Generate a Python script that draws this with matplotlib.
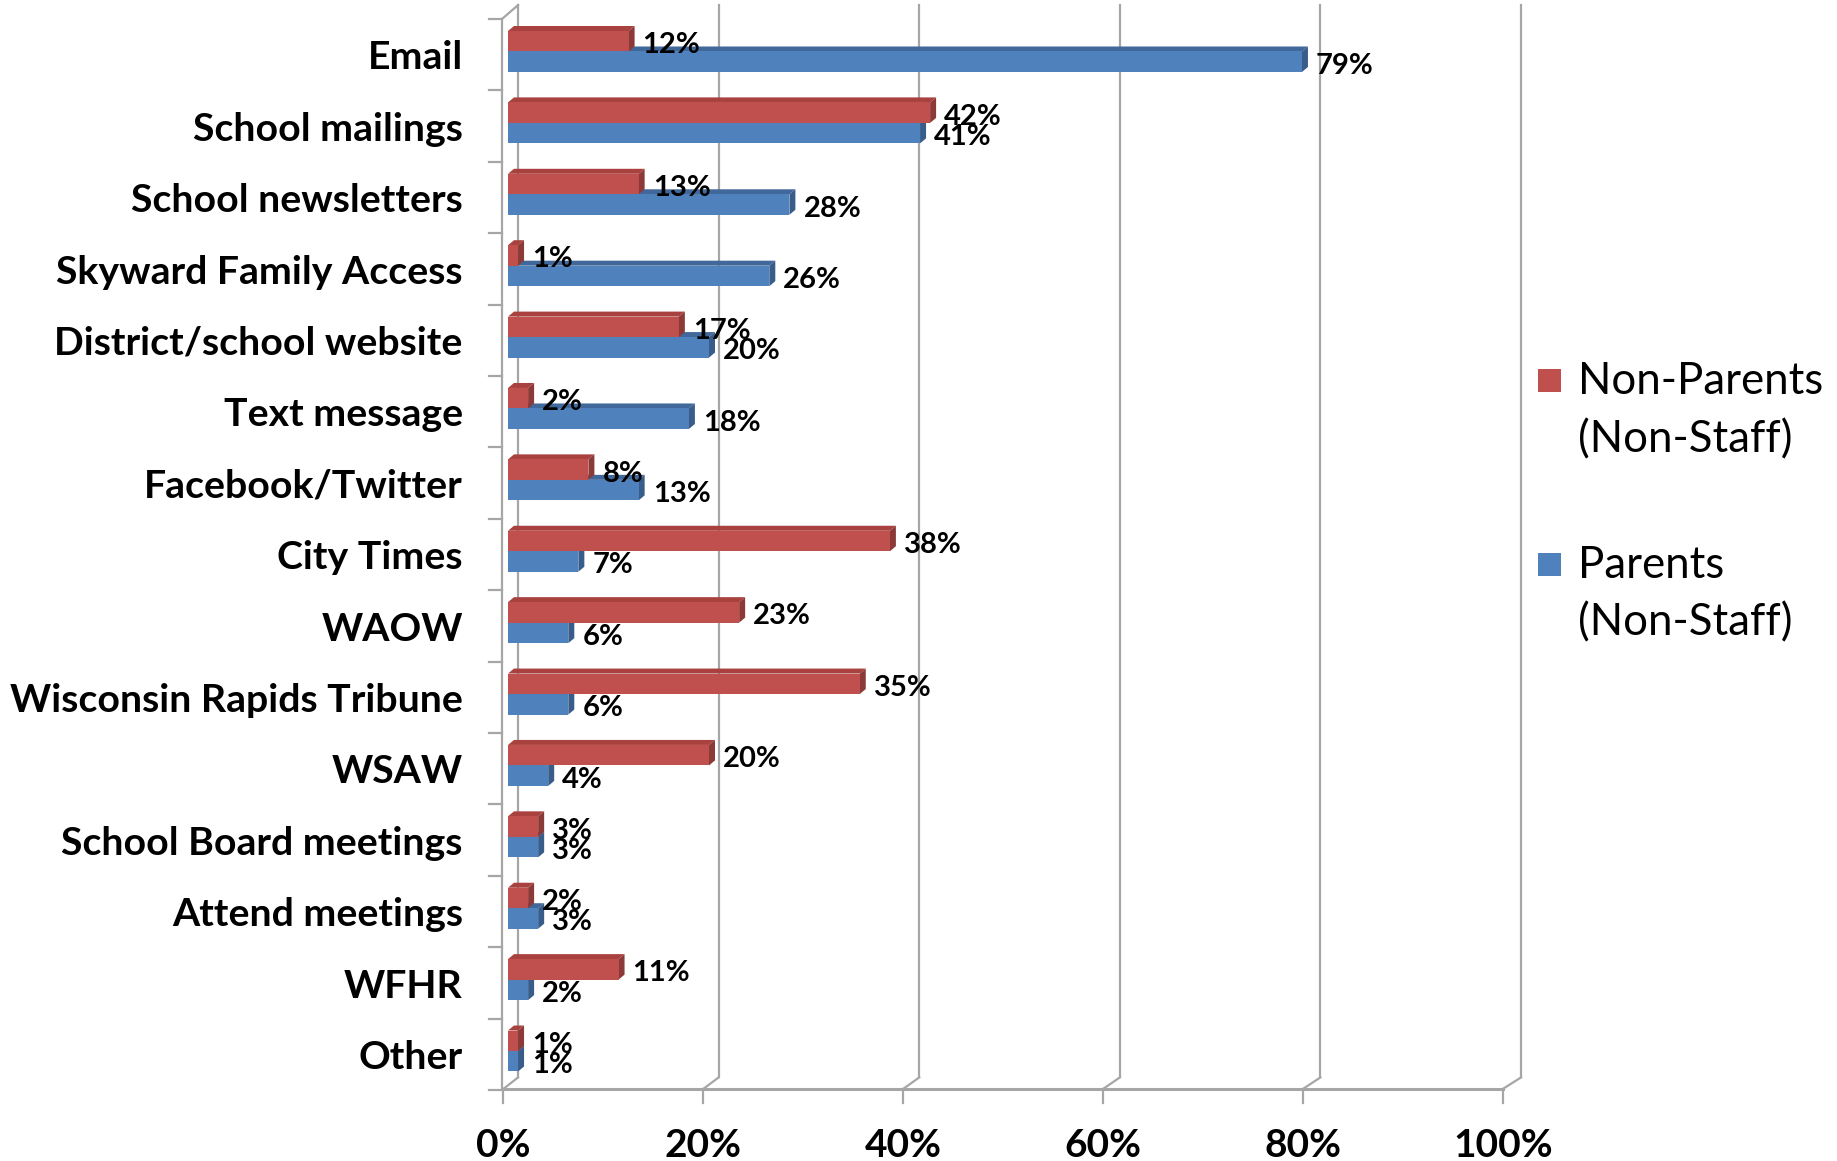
import matplotlib
matplotlib.use("Agg")
import matplotlib.pyplot as plt
from matplotlib.patches import Polygon, Rectangle
from matplotlib.transforms import IdentityTransform

# Chart data
categories = ["Email", "School mailings", "School newsletters", "Skyward Family Access",
              "District/school website", "Text message", "Facebook/Twitter", "City Times",
              "WAOW", "Wisconsin Rapids Tribune", "WSAW", "School Board meetings",
              "Attend meetings", "WFHR", "Other"]
non_parents = [12, 42, 13, 1, 17, 2, 8, 38, 23, 35, 20, 3, 2, 11, 1]
parents = [79, 41, 28, 26, 20, 18, 13, 7, 6, 6, 4, 3, 3, 2, 1]
xticks = [0, 20, 40, 60, 80, 100]
xtick_labels = ["0%", "20%", "40%", "60%", "80%", "100%"]
legend_lines = [["Non-Parents", "(Non-Staff)"], ["Parents", "(Non-Staff)"]]

RED = "#C0504D"
RED_TOP = "#A9423F"
RED_SIDE = "#8C3A37"
BLUE = "#4F81BD"
BLUE_TOP = "#41689A"
BLUE_SIDE = "#385D8A"
GRID = "#A6A6A6"
FONT = "Lato"

W, H = 1837, 1161
fig = plt.figure(figsize=(W / 100, H / 100), dpi=100)
# axes placed so that 0..100 spans the bar front plane
ax = fig.add_axes([508 / W, 74.3 / H, 1005 / W, 1070.9 / H])
ax.set_xlim(0, 100)
ax.set_ylim(len(categories) - 0.5, -0.5)
ax.axis("off")

n = len(categories)
bh = 0.287
off = 0.1435

# back wall gridlines + floor
def back_x(v):
    return 1.0 + 0.998 * v

def front_x(v):
    return -0.45 + 0.9945 * v

y_top, y_back, y_front = -0.65, 14.37, 14.53
x_left = -0.6
for v in xticks:
    ax.plot([back_x(v), back_x(v)], [y_top, y_back], color=GRID, lw=1.6, clip_on=False, zorder=1)
    ax.plot([front_x(v), back_x(v)], [y_front, y_back], color=GRID, lw=1.6, clip_on=False, zorder=1)
    ax.plot([front_x(v), front_x(v)], [y_front, y_front + 0.2], color=GRID, lw=1.6, clip_on=False, zorder=1)
ax.plot([front_x(0), front_x(100)], [y_front, y_front], color=GRID, lw=2.2, clip_on=False, zorder=1)
# left wall
ax.plot([x_left, x_left], [-0.455, y_front], color=GRID, lw=1.6, clip_on=False, zorder=1)
ax.plot([x_left, back_x(0)], [-0.455, y_top], color=GRID, lw=1.6, clip_on=False, zorder=1)
for k in range(n + 1):
    ax.plot([x_left - 1.3, x_left], [-0.455 + k, -0.455 + k], color=GRID, lw=1.6, clip_on=False, zorder=1)

# bars with simple 3D faces
DX, DY = 6, 5
def bar3d(y, val, front, top, side, z):
    ax.barh(y, val, height=bh, color=front, edgecolor="none", zorder=z + 0.2)
    (x0, y0) = ax.transData.transform((0, y + bh / 2))
    (x1, y1) = ax.transData.transform((val, y - bh / 2))
    tp = Polygon([(x0, y1), (x0 + DX, y1 + DY), (x1 + DX, y1 + DY), (x1, y1)],
                 closed=True, facecolor=top, edgecolor="none", transform=IdentityTransform(),
                 zorder=z, clip_on=False)
    sp = Polygon([(x1, y1), (x1 + DX, y1 + DY), (x1 + DX, y0 + DY), (x1, y0)],
                 closed=True, facecolor=side, edgecolor="none", transform=IdentityTransform(),
                 zorder=z + 0.1, clip_on=False)
    ax.add_patch(tp)
    ax.add_patch(sp)

for i in range(n):
    bar3d(i + off, parents[i], BLUE, BLUE_TOP, BLUE_SIDE, 2 + i * 0.01)
    bar3d(i - off, non_parents[i], RED, RED_TOP, RED_SIDE, 3 + i * 0.01)
    ax.annotate(f"{non_parents[i]}%", (non_parents[i], i - off), xytext=(14, -4),
                textcoords="offset pixels", va="center", ha="left", fontsize=21,
                fontweight="bold", family=FONT, zorder=5)
    ax.annotate(f"{parents[i]}%", (parents[i], i + off), xytext=(14, -4),
                textcoords="offset pixels", va="center", ha="left", fontsize=21,
                fontweight="bold", family=FONT, zorder=5)
    ax.text(-4.5, i + 0.09, categories[i], ha="right", va="center", fontsize=28.3,
            fontweight="bold", family=FONT)

for v, lab in zip(xticks, xtick_labels):
    ax.text(front_x(v), 15.32, lab, ha="center", va="center", fontsize=28,
            fontweight="bold", family=FONT)

# legend
line_y = [[382, 440], [565, 623]]
for j, col in enumerate([RED, BLUE]):
    ytop = 369 + 184 * j
    fig.add_artist(Rectangle((1538 / W, 1 - (ytop + 23) / H), 23 / W, 23 / H,
                             facecolor=col, edgecolor="none", transform=fig.transFigure))
    for txt, yy in zip(legend_lines[j], line_y[j]):
        fig.text(1578 / W, 1 - yy / H, txt, ha="left", va="center", fontsize=31.5, family=FONT)

fig.savefig("out.png", dpi=100)
